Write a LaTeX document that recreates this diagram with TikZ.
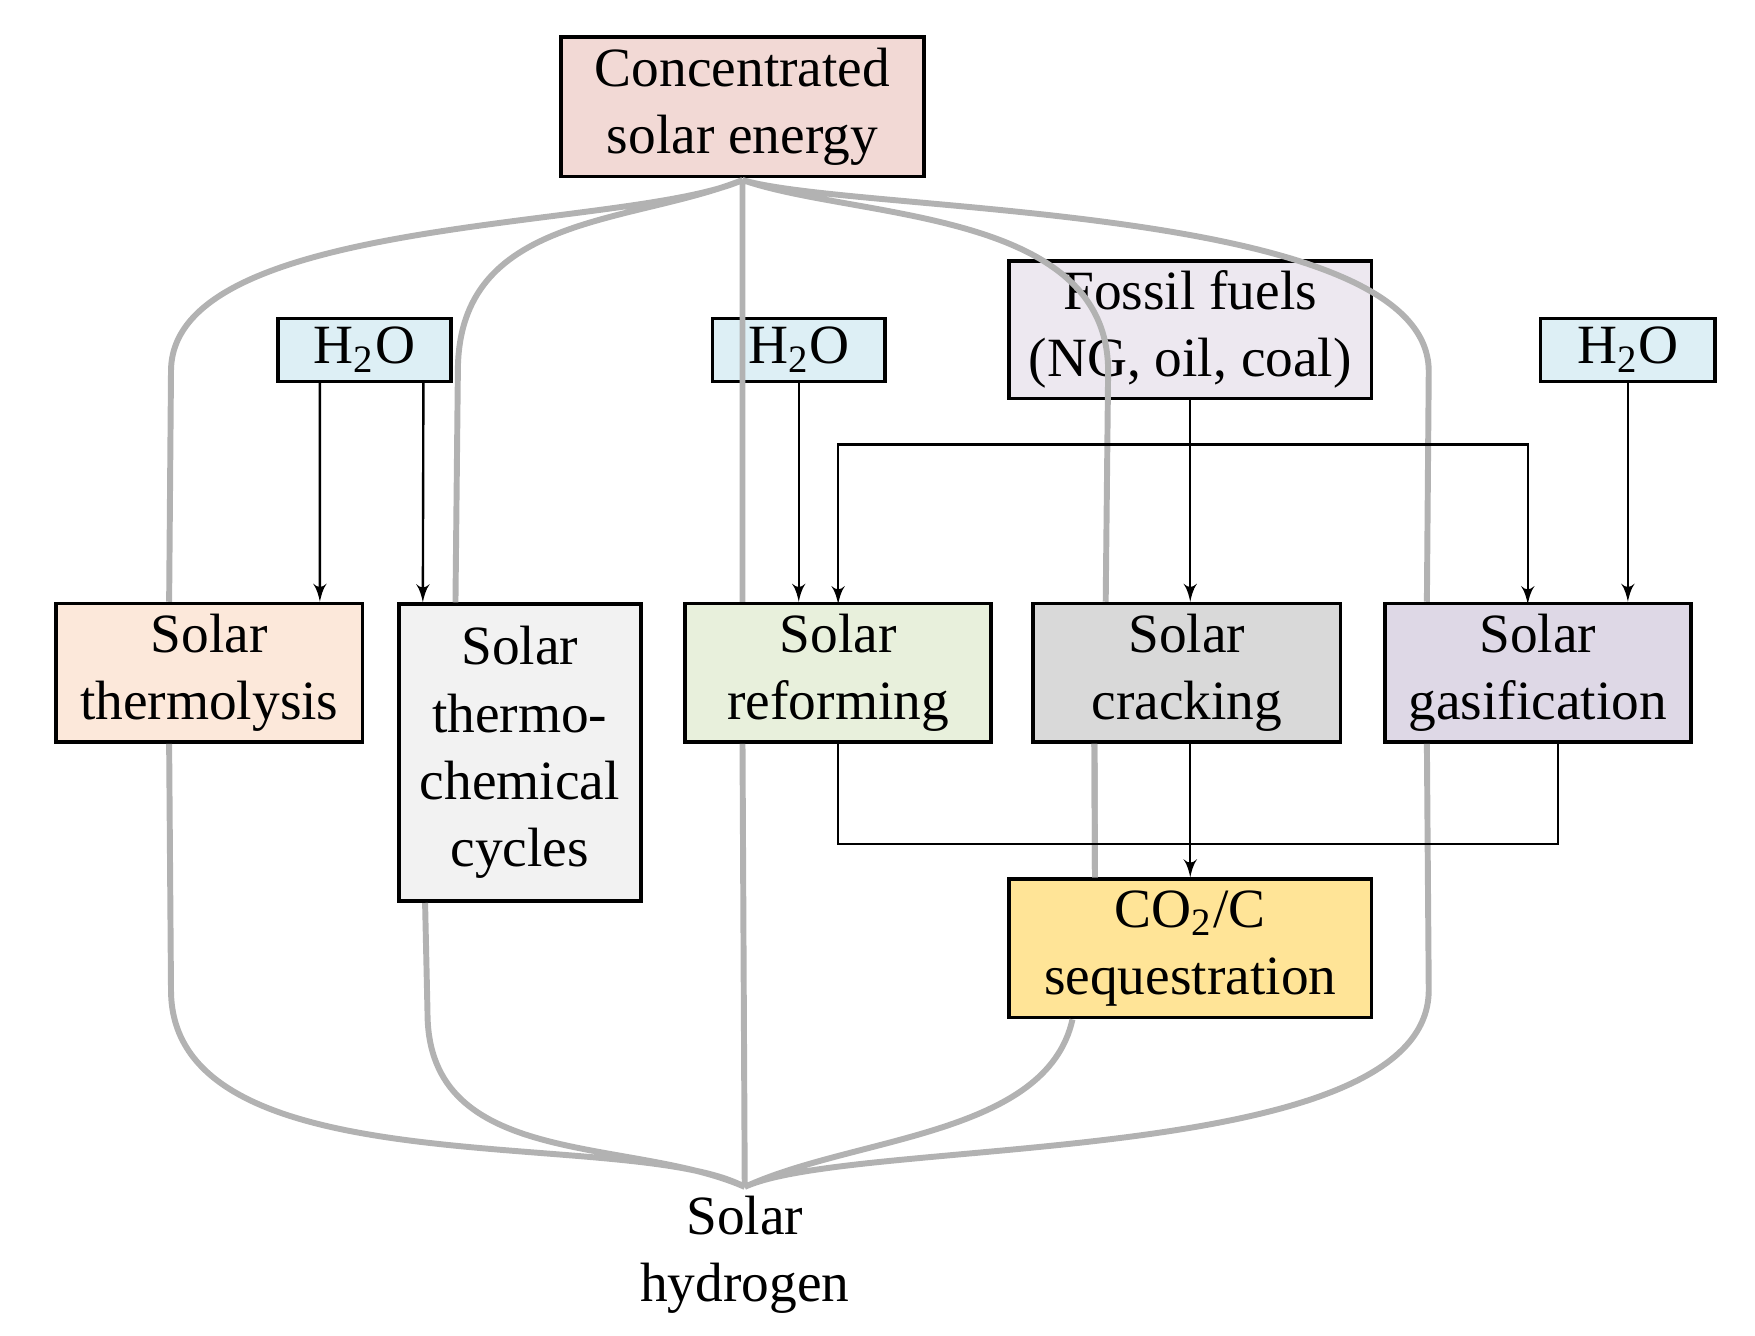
\documentclass[tikz,border=0pt]{standalone}
\usepackage{fontspec}
\setmainfont{Liberation Serif}
\usetikzlibrary{arrows,calc}
\definecolor{cpink}{HTML}{F2D9D5}
\definecolor{cblue}{HTML}{DDEFF5}
\definecolor{cfossil}{HTML}{EDE8F0}
\definecolor{cpeach}{HTML}{FCE8DA}
\definecolor{cwhite}{HTML}{F2F2F2}
\definecolor{cgreen}{HTML}{E8F0DC}
\definecolor{cgrey}{HTML}{D9D9D9}
\definecolor{cviolet}{HTML}{DED8E6}
\definecolor{cyellow}{HTML}{FFE497}
\begin{document}
\begin{tikzpicture}[>=latex', x=0.01cm, y=-0.01cm]
        \tikzset{block/.style= {draw, line width=0.9pt, rectangle, align=center, inner sep=0pt,
                   font=\fontsize{14}{17}\selectfont},
                 flow/.style= {draw, line width=0.6pt},
                 sun/.style= {draw=gray!60, line width=1.5pt},
        }
        \useasboundingbox (0,0) rectangle (1560,1187);

        \node [block, fill=cpink, minimum width=3.22cm, minimum height=1.24cm] (cse) at (660,95) {Concentrated\\solar energy};
        \node [block, fill=cblue, minimum width=1.54cm, minimum height=0.56cm] (wA) at (324,311) {H\textsubscript{2}O};
        \node [block, fill=cblue, minimum width=1.53cm, minimum height=0.56cm] (wB) at (710,311) {H\textsubscript{2}O};
        \node [block, fill=cblue, minimum width=1.55cm, minimum height=0.56cm] (wC) at (1447,311) {H\textsubscript{2}O};
        \node [block, fill=cfossil, minimum width=3.22cm, minimum height=1.22cm] (fossil) at (1058,293) {Fossil fuels\\(NG, oil, coal)};

        \node [block, fill=cpeach, minimum width=2.72cm, minimum height=1.23cm] (thermo) at (186,598) {Solar\\thermolysis};
        \node [block, fill=cwhite, minimum width=2.15cm, minimum height=2.64cm] (cycles) at (462,669) {Solar\\thermo-\\chemical\\cycles};
        \node [block, fill=cgreen, minimum width=2.72cm, minimum height=1.23cm] (reform) at (745,598) {Solar\\reforming};
        \node [block, fill=cgrey, minimum width=2.73cm, minimum height=1.23cm] (crack) at (1055,598) {Solar\\cracking};
        \node [block, fill=cviolet, minimum width=2.72cm, minimum height=1.23cm] (gasif) at (1367,598) {Solar\\gasification};
        \node [block, fill=cyellow, minimum width=3.22cm, minimum height=1.23cm] (seq) at (1058,843) {CO\textsubscript{2}/C\\sequestration};
        \node [align=center, font=\fontsize{14}{17}\selectfont] (h2) at (662,1115) {Solar\\hydrogen};

        \coordinate (top) at (660,160);
        \coordinate (hub) at (662,1055);
        \coordinate (split) at (1058,395);
        \coordinate (merge) at (1058,750);

        % solar heat paths
        \begin{scope}[on background layer/.try]
        \path[sun]
            (top) .. controls (560,205) and (152,190) .. (152,330) -- ($(thermo.north west)+(102,0)$)
            (top) .. controls (560,200) and (407,190) .. (407,330) -- ($(cycles.north west)+(52,0)$)
            (top) -- (reform.north -| top)
            (top) .. controls (760,195) and (985,185) .. (985,330) -- ($(crack.north west)+(66,0)$)
            (top) .. controls (760,190) and (1270,180) .. (1270,330) -- ($(gasif.north west)+(39,0)$)
            ($(thermo.south west)+(102,0)$) -- (152,880) .. controls (152,1060) and (560,1000) .. (hub)
            ($(cycles.south west)+(25,0)$) -- (380,900) .. controls (380,1040) and (560,1010) .. (hub)
            (reform.south -| top) -- (hub)
            ($(crack.south west)+(56,0)$) -- ($(seq.north west)+(78,0)$)
            ($(seq.south west)+(58,0)$) .. controls (930,1010) and (760,1010) .. (hub)
            ($(gasif.south west)+(39,0)$) -- (1270,880) .. controls (1270,1040) and (760,1010) .. (hub)
                    ;
        \end{scope}
        \draw[sun] ($(crack.south west)+(56,0)$) -- ($(seq.north west)+(78,0)$);

        \path[flow, ->]
            ($(wA.south west)+(39,0)$) -- ($(thermo.north west)+(236,0)$);
        \path[flow, ->]
            ($(wA.south west)+(131,0)$) -- ($(cycles.north west)+(23,0)$);
        \path[flow, ->]
            (wB) -- (wB |- reform.north);
        \path[flow, ->]
            (fossil) -- (fossil |- crack.north);
        \path[flow, ->]
            (split) -- (745,395) -- (745,537);
        \path[flow, ->]
            (split) -- (1358,395) -- (1358,537);
        \path[flow, ->]
            (wC) -- (wC |- gasif.north);
        \path[flow]
            (reform.south) -- (745,750) -- (1385,750) -- (1385,660);
        \path[flow, ->]
            (crack.south -| seq) -- (seq.north);
    \end{tikzpicture}
\end{document}
